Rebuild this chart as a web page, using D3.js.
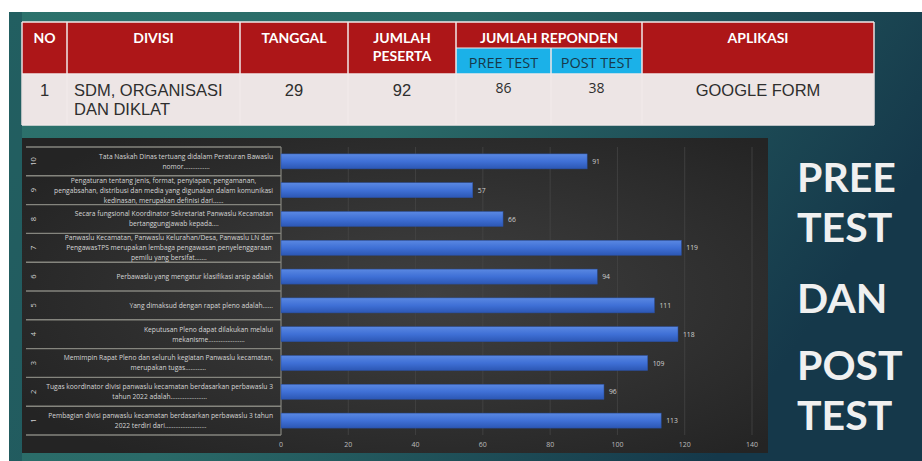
<!DOCTYPE html>
<html>
  <head>
    <meta charset="UTF-8" />
    <style>
      body {
        margin: 0;
        background: #ffffff;
      }
      svg {
        display: block;
      }
      .qlabel {
        font-family: "Open Sans", sans-serif;
        font-size: 6.7px;
        fill: #d6d6d6;
      }
    </style>
  </head>
  <body>
    <svg></svg>
    <script src="https://d3js.org/d3.v7.min.js"></script>
    <script>
      let width = 922,
        height = 461;

      // table data
      const tableHead = ["NO", "DIVISI", "TANGGAL", ["JUMLAH", "PESERTA"], "JUMLAH REPONDEN", "APLIKASI"];
      const tableSub = ["PREE TEST", "POST TEST"];
      const tableRow = ["1", ["SDM, ORGANISASI", "DAN DIKLAT"], "29", "92", "86", "38", "GOOGLE FORM"];

      // chart data (top row first)
      const questionNo = ["10", "9", "8", "7", "6", "5", "4", "3", "2", "1"];
      const questionLabels = [
        ["Tata Naskah Dinas tertuang didalam Peraturan Bawaslu", "nomor……………"],
        ["Pengaturan tentang jenis, format, penyiapan, pengamanan,", "pengabsahan, distribusi dan media yang digunakan dalam komunikasi", "kedinasan, merupakan definisi dari……"],
        ["Secara fungsional Koordinator Sekretariat Panwaslu Kecamatan", "bertanggungjawab kepada…."],
        ["Panwaslu Kecamatan, Panwaslu Kelurahan/Desa, Panwaslu LN dan", "PengawasTPS merupakan lembaga pengawasan penyelenggaraan", "pemilu yang bersifat……."],
        ["Perbawaslu yang mengatur klasifikasi arsip adalah"],
        ["Yang dimaksud dengan rapat pleno adalah……"],
        ["Keputusan Pleno dapat dilakukan melalui", "mekanisme…………………"],
        ["Memimpin Rapat Pleno dan seluruh kegiatan Panwaslu kecamatan,", "merupakan tugas…………"],
        ["Tugas koordinator divisi panwaslu kecamatan berdasarkan perbawaslu 3", "tahun 2022 adalah…………………"],
        ["Pembagian divisi panwaslu kecamatan berdasarkan perbawaslu 3 tahun", "2022 terdiri dari……………………"],
      ];
      const respondents = [91, 57, 66, 119, 94, 111, 118, 109, 96, 113];
      const xTicks = [0, 20, 40, 60, 80, 100, 120, 140];

      const sideTitle = ["PREE", "TEST", "DAN", "POST", "TEST"];

      let svg = d3.select("svg").attr("width", width).attr("height", height);
      let defs = svg.append("defs");

      // slide background
      let bg = defs.append("linearGradient").attr("id", "slideBg")
        .attr("x1", 0).attr("y1", 0).attr("x2", 1).attr("y2", 0.35);
      bg.append("stop").attr("offset", "0%").attr("stop-color", "#2c726c");
      bg.append("stop").attr("offset", "45%").attr("stop-color", "#2a6a68");
      bg.append("stop").attr("offset", "100%").attr("stop-color", "#15384a");

      let chartBg = defs.append("radialGradient").attr("id", "chartBg")
        .attr("cx", "55%").attr("cy", "50%").attr("r", "65%");
      chartBg.append("stop").attr("offset", "0%").attr("stop-color", "#404040");
      chartBg.append("stop").attr("offset", "100%").attr("stop-color", "#242424");

      let barGrad = defs.append("linearGradient").attr("id", "barGrad")
        .attr("x1", 0).attr("y1", 0).attr("x2", 0).attr("y2", 1);
      barGrad.append("stop").attr("offset", "0%").attr("stop-color", "#5a88e2");
      barGrad.append("stop").attr("offset", "50%").attr("stop-color", "#3f70d6");
      barGrad.append("stop").attr("offset", "100%").attr("stop-color", "#2c57b4");

      svg.append("rect").attr("x", 9).attr("y", 12).attr("width", width - 9).attr("height", height - 12)
        .attr("fill", "url(#slideBg)");
      // darker strip on the left edge
      svg.append("rect").attr("x", 9).attr("y", 12).attr("width", 13).attr("height", height - 12)
        .attr("fill", "#123d4c").attr("opacity", 0.35);

      // ---------- table ----------
      const colEdges = [22, 67, 240, 348, 456, 551, 642, 874];
      const tTop = 22, subTop = 48, rowTop = 74, tBottom = 125;
      let table = svg.append("g");

      table.append("rect").attr("x", colEdges[0]).attr("y", tTop)
        .attr("width", colEdges[7] - colEdges[0]).attr("height", rowTop - tTop).attr("fill", "#ad1618");
      table.append("rect").attr("x", colEdges[4]).attr("y", subTop)
        .attr("width", colEdges[6] - colEdges[4]).attr("height", rowTop - subTop).attr("fill", "#1bb1e8");
      table.append("rect").attr("x", colEdges[0]).attr("y", rowTop)
        .attr("width", colEdges[7] - colEdges[0]).attr("height", tBottom - rowTop).attr("fill", "#ede5e5");

      // cell borders
      let borderCol = "#f1e9e9";
      colEdges.forEach((x, i) => {
        let y1 = tTop;
        if (i == 5) y1 = subTop;
        table.append("line").attr("x1", x).attr("x2", x).attr("y1", y1).attr("y2", tBottom)
          .attr("stroke", i == 0 || i == 7 ? "#e8e0e0" : borderCol).attr("stroke-width", 1.5);
      });
      table.append("line").attr("x1", colEdges[4]).attr("x2", colEdges[6]).attr("y1", subTop).attr("y2", subTop)
        .attr("stroke", borderCol).attr("stroke-width", 1.2);
      [tTop, rowTop, tBottom].forEach((y) => {
        table.append("line").attr("x1", colEdges[0]).attr("x2", colEdges[7]).attr("y1", y).attr("y2", y)
          .attr("stroke", borderCol).attr("stroke-width", 1.5);
      });

      let headFont = "Lato, sans-serif";
      let headCenters = [0, 1, 2, 3].map((i) => (colEdges[i] + colEdges[i + 1]) / 2);
      headCenters.push((colEdges[4] + colEdges[6]) / 2);
      headCenters.push((colEdges[6] + colEdges[7]) / 2);

      tableHead.forEach((h, i) => {
        let lines = Array.isArray(h) ? h : [h];
        let t = table.append("text").attr("text-anchor", "middle")
          .attr("font-family", headFont).attr("font-weight", "bold").attr("font-size", 14)
          .attr("fill", "#ffffff");
        lines.forEach((l, j) => {
          t.append("tspan").attr("x", headCenters[i]).attr("y", 43 + j * 18).text(l);
        });
      });

      tableSub.forEach((s, i) => {
        table.append("text").attr("x", (colEdges[4 + i] + colEdges[5 + i]) / 2).attr("y", 68)
          .attr("text-anchor", "middle").attr("font-family", "'Liberation Sans Narrow', 'Open Sans', sans-serif")
          .attr("font-size", 14.5).attr("fill", "#17384a").text(s);
      });

      let rowCenters = [0, 1, 2, 3, 4, 5, 6].map((i) => (colEdges[i] + colEdges[i + 1]) / 2);
      tableRow.forEach((v, i) => {
        let lines = Array.isArray(v) ? v : [v];
        let isResp = i == 4 || i == 5;
        let t = table.append("text")
          .attr("text-anchor", i == 1 ? "start" : "middle")
          .attr("font-family", isResp ? "'Open Sans', sans-serif" : "'Liberation Sans', sans-serif")
          .attr("font-size", isResp ? 14 : 16.5)
          .attr("fill", "#2e2e2e");
        lines.forEach((l, j) => {
          t.append("tspan").attr("x", i == 1 ? 74 : rowCenters[i])
            .attr("y", (isResp ? 93 : 96) + j * 19).text(l);
        });
      });

      // ---------- bar chart ----------
      let chartBox = { x: 22, y: 138, w: 746, h: 315 };
      svg.append("rect").attr("x", chartBox.x).attr("y", chartBox.y)
        .attr("width", chartBox.w).attr("height", chartBox.h).attr("fill", "url(#chartBg)");

      let x = d3.scaleLinear().domain([0, 140]).range([281, 752]);
      let y = d3.scaleBand().domain(questionNo).range([147, 435]).paddingInner(0).paddingOuter(0);

      // gridlines
      svg.append("g").selectAll("line").data(xTicks.slice(1)).enter().append("line")
        .attr("x1", (d) => x(d)).attr("x2", (d) => x(d)).attr("y1", 147).attr("y2", 435)
        .attr("stroke", "#454545").attr("stroke-width", 0.8);

      // label boxes
      let boxEdges = questionNo.map((d) => y(d)).concat([435]);
      svg.append("g").selectAll("line").data(boxEdges).enter().append("line")
        .attr("x1", 26).attr("x2", 281).attr("y1", (d) => d).attr("y2", (d) => d)
        .attr("stroke", "#85857e").attr("stroke-width", 1.4);
      svg.append("line").attr("x1", 281).attr("x2", 281).attr("y1", 147).attr("y2", 435)
        .attr("stroke", "#85857e").attr("stroke-width", 1.2);

      // numbers, rotated
      svg.append("g").selectAll("text").data(questionNo).enter().append("text")
        .attr("transform", (d) => "translate(36," + (y(d) + y.bandwidth() / 2) + ") rotate(-90)")
        .attr("text-anchor", "middle").attr("font-family", "'Open Sans', sans-serif")
        .attr("font-size", 7.5).attr("fill", "#cfcfcf").text((d) => d);

      // question labels: block right aligned, lines centred in block
      let lineH = 10;
      questionLabels.forEach((lines, i) => {
        let g = svg.append("g");
        let cy = y(questionNo[i]) + y.bandwidth() / 2;
        let texts = lines.map((l, j) =>
          g.append("text").attr("class", "qlabel")
            .attr("y", cy + (j - (lines.length - 1) / 2) * lineH + 2.3).text(l)
        );
        let widths = texts.map((t) => t.node().getComputedTextLength());
        let maxW = d3.max(widths);
        let right = 273;
        texts.forEach((t) => t.attr("x", right - maxW / 2).attr("text-anchor", "middle"));
      });

      // bars
      let barH = 15;
      svg.append("g").selectAll("rect").data(respondents).enter().append("rect")
        .attr("x", x(0))
        .attr("y", (d, i) => y(questionNo[i]) + (y.bandwidth() - barH) / 2)
        .attr("width", (d) => x(d) - x(0))
        .attr("height", barH)
        .attr("fill", "url(#barGrad)")
        .attr("stroke", "#2a4f9e").attr("stroke-width", 0.5);

      svg.append("g").selectAll("text").data(respondents).enter().append("text")
        .attr("x", (d) => x(d) + 5)
        .attr("y", (d, i) => y(questionNo[i]) + y.bandwidth() / 2 + 2.5)
        .attr("font-family", "'Open Sans', sans-serif").attr("font-size", 6.8)
        .attr("fill", "#d0d0d0").text((d) => d);

      // x axis ticks
      svg.append("g").selectAll("text").data(xTicks).enter().append("text")
        .attr("x", (d) => x(d)).attr("y", 447).attr("text-anchor", "middle")
        .attr("font-family", "'Open Sans', sans-serif").attr("font-size", 7)
        .attr("fill", "#bdbdbd").text((d) => d);

      // ---------- side title ----------
      let titleBase = [192, 242, 313, 380, 430];
      svg.append("g").selectAll("text").data(sideTitle).enter().append("text")
        .attr("x", 797).attr("y", (d, i) => titleBase[i])
        .attr("font-family", "Lato, sans-serif").attr("font-weight", "bold").attr("font-size", 41)
        .attr("fill", "#f0f0f0").text((d) => d);
    </script>
  </body>
</html>
